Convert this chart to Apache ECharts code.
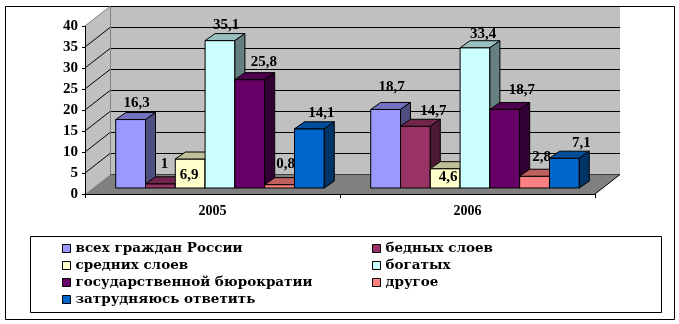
<!DOCTYPE html>
<html>
<head>
<meta charset="utf-8">
<script src="https://cdn.jsdelivr.net/npm/echarts@6/dist/echarts.min.js"></script>
<style>
html,body{margin:0;padding:0;background:#fff;}
#chart{width:679px;height:324px;}
</style>
</head>
<body>
<div id="chart"></div>
<script>
// ---- data ----
const categories = ['2005', '2006'];
const seriesNames = [
  'всех граждан России',
  'бедных слоев',
  'средних слоев',
  'богатых',
  'государственной бюрократии',
  'другое',
  'затрудняюсь ответить'
];
const allCitizens = [16.3, 18.7];
const poorStrata = [1, 14.7];
const middleStrata = [6.9, 4.6];
const richStrata = [35.1, 33.4];
const bureaucracy = [25.8, 18.7];
const otherAnswer = [0.8, 2.8];
const hardToSay = [14.1, 7.1];
const yMin = 0, yMax = 40, yStep = 5;

const seriesValues = [allCitizens, poorStrata, middleStrata, richStrata, bureaucracy, otherAnswer, hardToSay];

// ---- styles ----
const palette = [
  {front:'#9999FF', top:'#7373BF', side:'#4D4D80'},
  {front:'#993366', top:'#73264D', side:'#4D1A33'},
  {front:'#FFFFCC', top:'#BFBF99', side:'#808066'},
  {front:'#CCFFFF', top:'#99BFBF', side:'#668080'},
  {front:'#660066', top:'#4D004D', side:'#330033'},
  {front:'#FF8080', top:'#BF6060', side:'#804040'},
  {front:'#0066CC', top:'#004D99', side:'#003366'}
];
// label offsets (px) from bar front-top centre, per series, per category
const labelShift = [
  [[6,-16],[6,-22]],
  [[4,-20],[18,-15]],
  [[-1,16],[3,8]],
  [[6,-15],[8,-14]],
  [[14,-18],[17,-19]],
  [[6,-21],[7,-19]],
  [[12,-16],[17,-15]]
];
const WALL_DX = 25, WALL_DY = -19.5;   // depth of the floor / side wall
const BAR_DX = 10, BAR_DY = -7;        // depth of each column
const numFont = '"Liberation Serif", "Times New Roman", serif';

function fmt(v){ return String(v).replace('.', ','); }

function barRenderer(sIdx){
  return function(params, api){
    const cat = api.value(0), v = api.value(1);
    const base = api.coord([cat, 0]);
    const top = api.coord([cat, v]);
    const band = api.size([1, 0])[0];
    const w = band * 0.818 / 7;
    const l = base[0] - 3.5 * w + sIdx * w, r = l + w;
    const yb = base[1], yt = top[1];
    const c = palette[sIdx];
    const sh = labelShift[sIdx][params.dataIndex];
    const st = {stroke:'#000', lineWidth:1, lineJoin:'miter'};
    return {type:'group', children:[
      {type:'polygon', shape:{points:[[l,yt],[r,yt],[r,yb],[l,yb]]}, style:Object.assign({fill:c.front}, st)},
      {type:'polygon', shape:{points:[[l,yt],[r,yt],[r+BAR_DX,yt+BAR_DY],[l+BAR_DX,yt+BAR_DY]]}, style:Object.assign({fill:c.top}, st)},
      {type:'polygon', shape:{points:[[r,yt],[r+BAR_DX,yt+BAR_DY],[r+BAR_DX,yb+BAR_DY],[r,yb]]}, style:Object.assign({fill:c.side}, st)},
      {type:'text', z2:100, x:(l+r)/2 + sh[0], y:yt + sh[1],
        style:{text:fmt(v), fill:'#000', fontSize:15, fontWeight:'bold', fontFamily:numFont, align:'center', verticalAlign:'middle'}}
    ]};
  };
}

function decorRenderer(params, api){
  const cs = params.coordSys;
  const L = cs.x, R = cs.x + cs.width;
  const y0 = api.coord([0, yMin])[1];
  const yT = api.coord([0, yMax])[1];
  const ch = [];
  ch.push({type:'polygon', shape:{points:[[L,y0],[L,yT],[L+WALL_DX,yT+WALL_DY],[L+WALL_DX,y0+WALL_DY]]}, style:{fill:'#C0C0C0'}});
  ch.push({type:'polygon', shape:{points:[[L,y0],[R,y0],[R+WALL_DX,y0+WALL_DY],[L+WALL_DX,y0+WALL_DY]]}, style:{fill:'#808080'}});
  ch.push({type:'line', shape:{x1:L+WALL_DX+0.5,y1:yT+WALL_DY,x2:L+WALL_DX+0.5,y2:y0+WALL_DY}, style:{stroke:'#808080', lineWidth:1}});
  ch.push({type:'line', shape:{x1:L,y1:yT,x2:L+WALL_DX,y2:yT+WALL_DY}, style:{stroke:'#808080', lineWidth:1}});
  for (let t = yMin + yStep; t < yMax; t += yStep){
    const y = api.coord([0, t])[1];
    ch.push({type:'line', shape:{x1:L,y1:y,x2:L+WALL_DX,y2:y+WALL_DY}, style:{stroke:'#000', lineWidth:1}});
  }
  ch.push({type:'line', shape:{x1:R,y1:y0,x2:R+WALL_DX,y2:y0+WALL_DY}, style:{stroke:'#000', lineWidth:1}});
  return {type:'group', children:ch};
}

const chart = echarts.init(document.getElementById('chart'), null, {renderer:'canvas'});

const series = [{
  type:'custom', name:'_decor', xAxisIndex:0, yAxisIndex:0, z:1, silent:true,
  renderItem: decorRenderer, data:[[0, 0]], clip:false
}];
seriesValues.forEach(function(vals, i){
  series.push({
    type:'custom', name:seriesNames[i], xAxisIndex:2, yAxisIndex:2, z:2, silent:true,
    itemStyle:{color:palette[i].front},
    renderItem: barRenderer(i), clip:false,
    encode:{x:0, y:1},
    data: vals.map(function(v, k){ return [k, v]; })
  });
});

function legendItem(i){
  return {name:seriesNames[i], itemStyle:{color:palette[i].front, borderColor:'#000', borderWidth:1}};
}
const legendCommon = {
  orient:'vertical', padding:0, selectedMode:false, icon:'rect',
  itemWidth:8, itemHeight:8, itemGap:2,
  textStyle:{fontFamily:'"DejaVu Serif", serif', fontWeight:'bold', fontSize:13.5, color:'#000', lineHeight:15}
};

chart.setOption({
  animation:false,
  backgroundColor:'#fff',
  grid:[
    {left:85, top:26, width:510, height:168},
    {left:110, top:6.5, width:510, height:168, show:true, backgroundColor:'#C0C0C0', borderWidth:0},
    {left:92.5, top:20, width:510, height:168}
  ],
  xAxis:[
    {gridIndex:0, type:'category', data:categories, boundaryGap:true, z:10,
      axisLine:{lineStyle:{color:'#000', width:1}},
      axisTick:{show:true, length:4, lineStyle:{color:'#000'}},
      axisLabel:{margin:10, color:'#000', fontSize:14, fontWeight:'bold', fontFamily:numFont}},
    {gridIndex:1, type:'category', data:categories, show:false},
    {gridIndex:2, type:'category', data:categories, show:false}
  ],
  yAxis:[
    {gridIndex:0, type:'value', min:yMin, max:yMax, interval:yStep, z:10,
      axisLine:{show:true, lineStyle:{color:'#000', width:1}},
      axisTick:{show:true, length:3, lineStyle:{color:'#000'}},
      splitLine:{show:false},
      axisLabel:{margin:7, color:'#000', fontSize:15, fontWeight:'bold', fontFamily:numFont}},
    {gridIndex:1, type:'value', min:yMin, max:yMax, interval:yStep,
      axisLine:{show:false}, axisTick:{show:false}, axisLabel:{show:false},
      splitLine:{show:true, lineStyle:{color:'#000', width:1}}},
    {gridIndex:2, type:'value', min:yMin, max:yMax, interval:yStep, show:false,
      splitLine:{show:false}}
  ],
  legend:[
    Object.assign({left:62, top:241, data:[0,2,4,6].map(legendItem)}, legendCommon),
    Object.assign({left:372, top:241, data:[1,3,5].map(legendItem)}, legendCommon)
  ],
  graphic:[
    {type:'rect', silent:true, shape:{x:5.5, y:6.5, width:669, height:313}, style:{fill:null, stroke:'#000', lineWidth:1}, z:-1},
    {type:'rect', silent:true, shape:{x:30.5, y:236.5, width:631, height:76}, style:{fill:null, stroke:'#000', lineWidth:1}}
  ],
  series:series
});
</script>
</body>
</html>
